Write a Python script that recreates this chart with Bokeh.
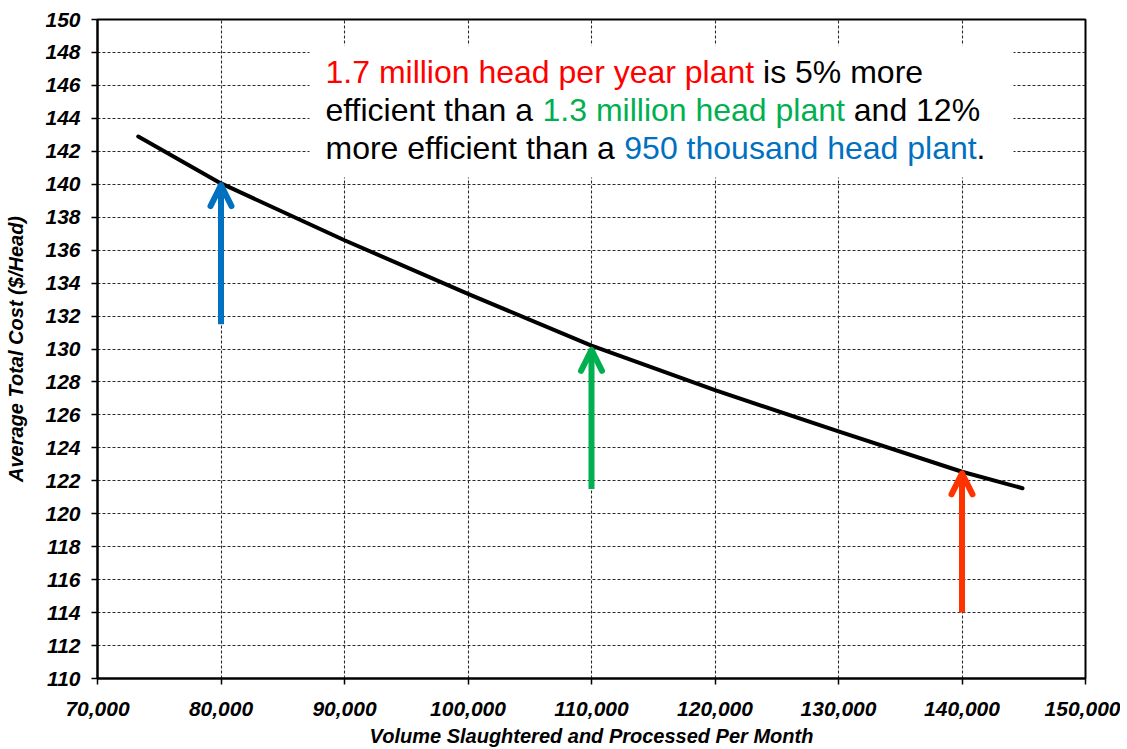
from bokeh.plotting import figure
from bokeh.models import (Range1d, NumeralTickFormatter, FixedTicker, BoxAnnotation,
                          Label, Arrow, OpenHead)
from bokeh.embed import file_html
from bokeh.resources import INLINE

# ---- data ----
volume = [73300, 80000, 90000, 100000, 110000, 120000, 130000, 140000, 144900]
avg_cost = [142.9, 140.05, 136.6, 133.35, 130.2, 127.5, 125.0, 122.55, 121.55]

arrow_x = [80000, 110000, 140000]
arrow_y_start = [131.5, 121.5, 114.0]
arrow_y_end = [139.95, 129.95, 122.45]
arrow_colors = ["#0070C0", "#00B050", "#FF3300"]

x_ticks = [70000, 80000, 90000, 100000, 110000, 120000, 130000, 140000, 150000]
y_ticks = list(range(110, 151, 2))

text_lines = [
    [("1.7 million head per year plant", "#FF0000"), ("is 5% more", "#000000")],
    [("efficient than a", "#000000"), ("1.3 million head plant", "#00B050"), ("and 12%", "#000000")],
    [("more efficient than a", "#000000"), ("950 thousand head plant", "#0070C0"), (".", "#000000")],
]

# ---- layout constants (page pixels) ----
W_FIG, H_FIG = 1120, 749
FRAME_L, FRAME_R, FRAME_T, FRAME_B = 97, 1085, 19, 678
X0, X1, Y0, Y1 = 70000, 150000, 110, 150


def px2x(px):
    return X0 + (px - FRAME_L) * (X1 - X0) / (FRAME_R - FRAME_L)


def py2y(py):
    return Y1 - (py - FRAME_T) * (Y1 - Y0) / (FRAME_B - FRAME_T)


p = figure(width=W_FIG, height=H_FIG, output_backend="svg", toolbar_location=None,
           x_range=Range1d(X0, X1), y_range=Range1d(Y0, Y1))
p.min_border_left = FRAME_L
p.min_border_top = FRAME_T
p.min_border_right = W_FIG - FRAME_R
p.min_border_bottom = H_FIG - FRAME_B
p.background_fill_color = "white"
p.border_fill_color = "white"
p.outline_line_color = "black"
p.outline_line_width = 2

p.xaxis.ticker = FixedTicker(ticks=x_ticks)
p.yaxis.ticker = FixedTicker(ticks=y_ticks)
p.xaxis.formatter = NumeralTickFormatter(format="0,0")

for ax in (p.xaxis[0], p.yaxis[0]):
    ax.axis_line_color = "black"
    ax.axis_line_width = 2
    ax.major_tick_line_color = "black"
    ax.major_tick_line_width = 1.5
    ax.major_tick_in = 0
    ax.major_tick_out = 6
    ax.minor_tick_line_color = None
    ax.major_label_text_font = "Liberation Sans"
    ax.major_label_text_font_style = "bold italic"
    ax.major_label_text_font_size = "21px"
    ax.major_label_text_color = "black"
    ax.axis_label_text_font = "Liberation Sans"
    ax.axis_label_text_font_style = "bold italic"
    ax.axis_label_text_font_size = "20px"
    ax.axis_label_text_color = "black"

p.xaxis.axis_label = "Volume Slaughtered and Processed Per Month"
p.yaxis.axis_label = "Average Total Cost ($/Head)"
p.xaxis.major_label_standoff = 17
p.xaxis.axis_label_standoff = 6
p.yaxis.major_label_standoff = 11
p.yaxis.axis_label_standoff = 15

p.grid.grid_line_color = "#2a2a2a"
p.grid.grid_line_dash = "3 2"
p.grid.grid_line_width = 1.1

# white box behind the annotation text
box = BoxAnnotation(left=px2x(309), right=px2x(1013), top=py2y(45), bottom=py2y(177),
                    fill_color="white", fill_alpha=1.0, line_alpha=0, level="underlay")
p.add_layout(box)

# cost curve
p.line(volume, avg_cost, line_color="black", line_width=4, line_cap="round", line_join="round")

# arrows
for xa, ys, ye, c in zip(arrow_x, arrow_y_start, arrow_y_end, arrow_colors):
    head = OpenHead(line_color=c, line_width=6, size=21, line_join="round", line_cap="round")
    p.add_layout(Arrow(end=head, x_start=xa, y_start=ys, x_end=xa, y_end=ye,
                       line_color=c, line_width=6))

# annotation text (Arial/Liberation Sans advance widths per 1000 em)
W = {' ': 278, '.': 278, '%': 889, 'a': 556, 'c': 500, 'd': 556, 'e': 556, 'f': 278,
     'h': 556, 'i': 222, 'l': 222, 'm': 833, 'n': 556, 'o': 556, 'p': 556, 'r': 333,
     's': 500, 't': 278, 'u': 556, 'y': 500}
for d in "0123456789":
    W[d] = 556
FS = 32


def tw(s):
    return sum(W.get(ch, 556) for ch in s) * FS / 1000.0


baselines = [71, 109, 147]
for line, by in zip(text_lines, baselines):
    xpx = 325
    for i, (seg, col) in enumerate(line):
        p.add_layout(Label(x=px2x(xpx), y=py2y(by), text=seg, text_color=col,
                           text_font="Liberation Sans", text_font_size=f"{FS}px",
                           text_baseline="alphabetic", text_align="left"))
        xpx += tw(seg)
        if i + 1 < len(line) and line[i + 1][0] != ".":
            xpx += tw(" ")

open("out.html", "w").write(file_html(p, INLINE))
